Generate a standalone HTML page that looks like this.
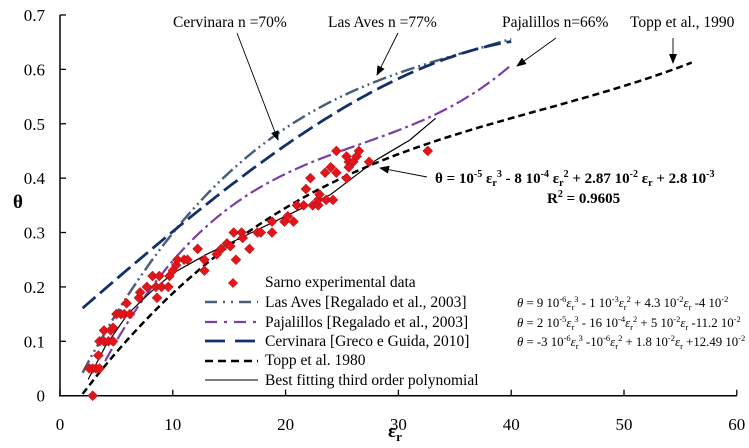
<!DOCTYPE html>
<html><head><meta charset="utf-8"><style>
body{margin:0;background:#fff}
svg{display:block;font-family:"Liberation Serif",serif}
</style></head><body>
<svg id="chart" width="749" height="448" viewBox="0 0 749 448">
<defs><marker id="ah" markerWidth="10" markerHeight="8" refX="9" refY="4" orient="auto" markerUnits="userSpaceOnUse"><path d="M0,0L10,4L0,8Z" fill="#000"/></marker></defs>
<g id="axes"></g>
<g id="series"></g>
<g id="pts"></g>
<g id="legend" font-size="15.5">
 <text x="265" y="287">Sarno experimental data</text>
 <text x="265" y="307">Las Aves [Regalado et al., 2003]</text>
 <text x="265" y="327">Pajalillos [Regalado et al., 2003]</text>
 <text x="265" y="346">Cervinara [Greco e Guida, 2010]</text>
 <text x="265" y="365">Topp et al. 1980</text>
 <text x="265" y="385">Best fitting third order polynomial</text>
 <g font-size="12.8">
 <text x="517" y="307"><tspan font-style="italic">θ</tspan> = 9 10<tspan font-size="8.5" dy="-5">-6</tspan><tspan dy="5" font-style="italic">ε</tspan><tspan font-size="8.5" dy="3">r</tspan><tspan font-size="8.5" dy="-8">3</tspan><tspan dy="5"> - 1 10</tspan><tspan font-size="8.5" dy="-5">-3</tspan><tspan dy="5" font-style="italic">ε</tspan><tspan font-size="8.5" dy="3">r</tspan><tspan font-size="8.5" dy="-8">2</tspan><tspan dy="5"> + 4.3 10</tspan><tspan font-size="8.5" dy="-5">-2</tspan><tspan dy="5" font-style="italic">ε</tspan><tspan font-size="8.5" dy="3">r</tspan><tspan dy="-3"> -4 10</tspan><tspan font-size="8.5" dy="-5">-2</tspan></text>
 <text x="517" y="327"><tspan font-style="italic">θ</tspan> = 2 10<tspan font-size="8.5" dy="-5">-5</tspan><tspan dy="5" font-style="italic">ε</tspan><tspan font-size="8.5" dy="3">r</tspan><tspan font-size="8.5" dy="-8">3</tspan><tspan dy="5"> - 16 10</tspan><tspan font-size="8.5" dy="-5">-4</tspan><tspan dy="5" font-style="italic">ε</tspan><tspan font-size="8.5" dy="3">r</tspan><tspan font-size="8.5" dy="-8">2</tspan><tspan dy="5"> + 5 10</tspan><tspan font-size="8.5" dy="-5">-2</tspan><tspan dy="5" font-style="italic">ε</tspan><tspan font-size="8.5" dy="3">r</tspan><tspan dy="-3"> -11.2 10</tspan><tspan font-size="8.5" dy="-5">-2</tspan></text>
 <text x="517" y="346"><tspan font-style="italic">θ</tspan> = -3 10<tspan font-size="8.5" dy="-5">-6</tspan><tspan dy="5" font-style="italic">ε</tspan><tspan font-size="8.5" dy="3">r</tspan><tspan font-size="8.5" dy="-8">3</tspan><tspan dy="5"> -10</tspan><tspan font-size="8.5" dy="-5">-6</tspan><tspan dy="5" font-style="italic">ε</tspan><tspan font-size="8.5" dy="3">r</tspan><tspan font-size="8.5" dy="-8">2</tspan><tspan dy="5"> + 1.8 10</tspan><tspan font-size="8.5" dy="-5">-2</tspan><tspan dy="5" font-style="italic">ε</tspan><tspan font-size="8.5" dy="3">r</tspan><tspan dy="-3"> +12.49 10</tspan><tspan font-size="8.5" dy="-5">-2</tspan></text>
 </g>
</g>
<g id="annot" font-size="15.5">
 <text x="173" y="27">Cervinara n =70%</text>
 <text x="328" y="27">Las Aves n =77%</text>
 <text x="502" y="27">Pajalillos  n=66%</text>
 <text x="630" y="27">Topp et al., 1990</text>
 <text x="435" y="183" font-size="15" font-weight="bold">θ = 10<tspan font-size="10" dy="-6">-5</tspan><tspan dy="6"> ε</tspan><tspan font-size="10" dy="3">r</tspan><tspan font-size="10" dy="-9">3</tspan><tspan dy="6"> - 8 10</tspan><tspan font-size="10" dy="-6">-4</tspan><tspan dy="6"> ε</tspan><tspan font-size="10" dy="3">r</tspan><tspan font-size="10" dy="-9">2</tspan><tspan dy="6"> + 2.87 10</tspan><tspan font-size="10" dy="-6">-2</tspan><tspan dy="6"> ε</tspan><tspan font-size="10" dy="3">r</tspan><tspan dy="-3"> + 2.8 10</tspan><tspan font-size="10" dy="-6">-3</tspan></text>
 <text x="547" y="203" font-size="15" font-weight="bold">R<tspan font-size="10" dy="-6">2</tspan><tspan dy="6"> = 0.9605</tspan></text>
</g>
</svg>
<script>
const xTicks=[0,10,20,30,40,50,60];
const yTicks=[0,0.1,0.2,0.3,0.4,0.5,0.6,0.7];
const yTickLabels=["0","0.1","0.2","0.3","0.4","0.5","0.6","0.7"];
const sarnoE=[2.9,2.6,2.9,3.2,3.5,3.4,3.5,3.9,4.3,4.7,3.9,4.5,4.7,5.0,5.4,5.7,6.2,5.9,7.0,7.1,7.7,8.5,9.0,9.6,8.6,8.2,8.8,9.7,10.0,10.3,10.4,11.0,11.3,12.2,12.8,12.8,13.9,14.3,14.8,15.1,15.4,15.6,16.1,16.2,16.8,17.5,17.8,18.8,18.8,19.9,20.2,20.7,21.0,21.6,22.4,22.9,22.9,21.8,22.2,23.0,23.6,24.2,23.5,24.0,24.5,25.4,25.6,26.0,25.6,24.5,25.4,26.3,26.5,27.4,32.6];
const sarnoT=[0,0.05,0.05,0.05,0.05,0.074,0.1,0.1,0.1,0.1,0.12,0.12,0.125,0.15,0.15,0.15,0.15,0.17,0.18,0.19,0.2,0.2,0.2,0.2,0.18,0.22,0.22,0.22,0.23,0.24,0.25,0.25,0.25,0.27,0.25,0.23,0.26,0.27,0.28,0.275,0.3,0.25,0.3,0.29,0.27,0.3,0.3,0.3,0.32,0.32,0.33,0.32,0.35,0.35,0.35,0.35,0.36,0.38,0.40,0.37,0.36,0.36,0.41,0.42,0.41,0.40,0.43,0.43,0.42,0.45,0.44,0.44,0.45,0.43,0.45];
const lasAvesCoef=[9e-6,-1e-3,4.3e-2,-4e-2];
const pajalillosCoef=[2e-5,-16e-4,5e-2,-11.2e-2];
const cervinaraCoef=[-3e-6,-1e-6,1.8e-2,12.49e-2];
const toppCoef=[4.3e-6,-5.5e-4,2.92e-2,-5.3e-2];
const fitE=[2.5,4,6,8,10,13,16,20,24,28,31,33.3];
const fitT=[0.03,0.09,0.15,0.19,0.225,0.26,0.29,0.33,0.37,0.433,0.47,0.51];

const NS="http://www.w3.org/2000/svg";
const X=v=>60+v*11.28, Y=v=>395.7-v*543.9;
function mk(tag,attrs,parent){const e=document.createElementNS(NS,tag);for(const k in attrs)e.setAttribute(k,attrs[k]);parent.appendChild(e);return e;}
const ax=document.getElementById('axes');
let l=mk('line',{x1:60,y1:Y(0.7),x2:60,y2:Y(0)+0.5,stroke:'#000','stroke-width':1.5},ax);


l=mk('line',{x1:59,y1:Y(0),x2:X(60),y2:Y(0),stroke:'#000','stroke-width':1.5},ax);


xTicks.forEach(v=>{
 const t=mk('line',{x1:X(v),x2:X(v),y1:Y(0),y2:Y(0)-6,stroke:'#000','stroke-width':1.3},ax);
 
 
 const tx=mk('text',{x:X(v),y:430,'text-anchor':'middle','font-size':17},ax);tx.textContent=v;
 
 
});
yTicks.forEach((v,i)=>{
 const t=mk('line',{x1:60,x2:66,y1:Y(v),y2:Y(v),stroke:'#000','stroke-width':1.3},ax);
 
 
 const tx=mk('text',{x:45,y:Y(v)+6,'text-anchor':'end','font-size':17},ax);tx.textContent=yTickLabels[i];
 
 
});
let tt=mk('text',{x:18,y:208,'text-anchor':'middle','font-size':19,'font-weight':'bold'},ax);tt.textContent='θ';


tt=mk('text',{x:388,y:437,'font-size':19,'font-weight':'bold'},ax);tt.innerHTML='ε<tspan font-size="13" dy="4">r</tspan>';



const sg=document.getElementById('series');
function poly(c,e){return c[0]*e*e*e+c[1]*e*e+c[2]*e+c[3];}
function curve(c,e0,e1,style,name){
 let d='';for(let i=0;i<=100;i++){const e=e0+(e1-e0)*i/100;d+=(i?'L':'M')+X(e).toFixed(1)+','+Y(poly(c,e)).toFixed(1);}
 const p=mk('path',Object.assign({d:d,fill:'none'},style),sg);
 
 
}
curve(lasAvesCoef,2,40,{stroke:'#4a6078','stroke-width':2.5,'stroke-dasharray':'14 4 2 4 2 4'},'las-aves-curve');
curve(pajalillosCoef,4,40,{stroke:'#7b3fa8','stroke-width':2.2,'stroke-dasharray':'14 4 3 4'},'pajalillos-curve');
curve(cervinaraCoef,2,40,{stroke:'#12306a','stroke-width':2.8,'stroke-dasharray':'17 6'},'cervinara-curve');
curve(toppCoef,2,56,{stroke:'#000','stroke-width':2.5,'stroke-dasharray':'7 4'},'topp-curve');
let fd='';fitE.forEach((e,i)=>{fd+=(i?'L':'M')+X(e).toFixed(1)+','+Y(fitT[i]).toFixed(1);});
let fp=mk('path',{d:fd,fill:'none',stroke:'#000','stroke-width':1.2},sg);



const pg=document.getElementById('pts');
function diamond(cx,cy,r){return `M${cx},${cy-r}L${cx+r},${cy}L${cx},${cy+r}L${cx-r},${cy}Z`;}
sarnoE.forEach((e,i)=>{
 const p=mk('path',{d:diamond(X(e),Y(sarnoT[i]),5),fill:'#e3141b',stroke:'#a01010','stroke-width':0.5},pg);
 
 
});

const lg=document.getElementById('legend');
let s=mk('path',{d:diamond(233,283,5),fill:'#e3141b'},lg);


[[302,{stroke:'#4a6078','stroke-width':2.5,'stroke-dasharray':'12 6 2 6 2 6'},'legend-las-aves-line'],
 [322,{stroke:'#7b3fa8','stroke-width':2.2,'stroke-dasharray':'12 7 3 7'},'legend-pajalillos-line'],
 [341,{stroke:'#12306a','stroke-width':2.8,'stroke-dasharray':'20 10'},'legend-cervinara-line'],
 [361,{stroke:'#000','stroke-width':2.5,'stroke-dasharray':'8 5'},'legend-topp-line'],
 [380,{stroke:'#333','stroke-width':1.2},'legend-fit-line']].forEach(a=>{
 const ln=mk('line',Object.assign({x1:205,x2:258,y1:a[0],y2:a[0]},a[1]),lg);
 
 
});

const an=document.getElementById('annot');
[[237,33,278,140,'arrow-cervinara'],[398,33,377,75,'arrow-las-aves'],[556,38,517,66,'arrow-pajalillos'],[673,38,673,63,'arrow-topp'],[427,177,380,168,'arrow-fit']].forEach(a=>{
 const ln=mk('line',{x1:a[0],y1:a[1],x2:a[2],y2:a[3],stroke:'#000','stroke-width':0.9,'marker-end':'url(#ah)'},an);
 
 
});
</script>
</body></html>
